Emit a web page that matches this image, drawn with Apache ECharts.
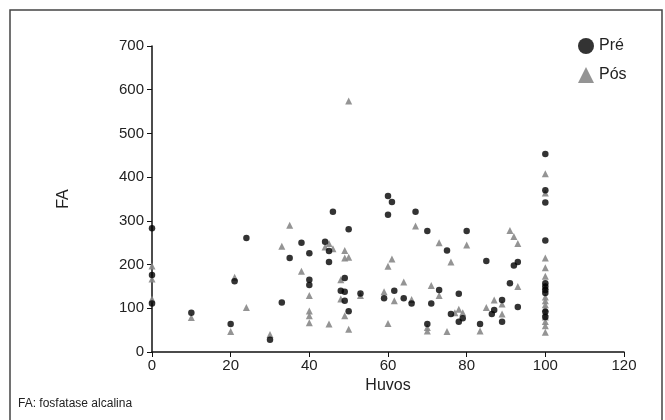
<!DOCTYPE html>
<html><head><meta charset="utf-8">
<script src="https://cdn.jsdelivr.net/npm/echarts@6/dist/echarts.min.js"></script>
<style>html,body{margin:0;padding:0;background:#fff}#c{width:665px;height:420px}</style>
</head><body><div id="c"></div>
<script>
var xTicks = [0, 20, 40, 60, 80, 100, 120];
var yTicks = [0, 100, 200, 300, 400, 500, 600, 700];
var preX = [0,0,0,10,20,21,24,30,33,35,38,40,40,40,44,45,45,46,48,49,49,49,50,50,53,59,60,60,61,61.6,64,66,67,70,70,71,73,75,76,78,78,79,80,83.4,85,86.4,87,89,89,91,92,93,93,100,100,100,100,100,100,100,100,100,100];
var preY = [283,176,111,90,64,162,261,28,113,215,250,226,165,153,252,231,206,321,140,169,138,117,281,93,134,123,357,314,343,140,123,111,321,277,64,111,142,232,87,133,69,77,277,64,208,87,96,119,69,157,198,206,103,453,370,342,255,157,150,142,135,92,80];
var posX = [0,0,0,10,20,21,24,30,33,35,38,40,40,40,40,44,45,46,45,48,48,49,49,50,49,50,50,53,59,60,61,61.6,60,64,66,67,70,70,71,73,73,76,75,77,78,79,80,83.4,85,87,89,89,91,92,93,93,100,100,100,100,100,100,100,100,100,100,100,100,100,100,100];
var posY = [197,167,121,79,47,171,102,40,242,290,185,129,94,83,67,240,248,236,64,165,121,232,215,217,83,52,574,129,138,196,213,117,65,160,120,288,48,56,152,250,129,206,47,90,98,90,245,48,102,119,110,87,278,264,248,150,408,364,215,193,173,150,126,117,108,100,90,80,70,60,45];
function pairs(xs, ys){ return xs.map(function(x,i){return [x, ys[i]];}); }
var font = 'Liberation Sans, Arial, sans-serif';
var chart = echarts.init(document.getElementById('c'));
chart.setOption({
  animation: false,
  backgroundColor: '#fff',
  graphic: [{type:'rect', shape:{x:10,y:10,width:652,height:430}, style:{fill:'none', stroke:'#444', lineWidth:1.5}, silent:true},
            {type:'text', left:18, top:398, style:{text:'FA: fosfatase alcalina', font:'12px ' + font, fill:'#222'}}],
  grid: {left:152, right:41, top:46, bottom:68},
  legend: {orient:'vertical', left:573, top:33, itemWidth:16, itemHeight:16, itemGap:13,
    textStyle:{fontFamily:font, fontSize:16, color:'#222'},
    data:[{name:'Pré', icon:'circle'}, {name:'Pós', icon:'triangle'}]},
  xAxis: {type:'value', min:0, max:120, interval:20, name:'Huvos', nameLocation:'middle', nameGap:25,
    nameTextStyle:{fontFamily:font, fontSize:16, color:'#222'},
    axisLine:{lineStyle:{color:'#111', width:1.5}}, axisTick:{inside:false, length:5, lineStyle:{color:'#111'}},
    splitLine:{show:false}, axisLabel:{fontFamily:font, fontSize:15, color:'#222', margin:6}},
  yAxis: {type:'value', min:0, max:700, interval:100, name:'FA', nameLocation:'middle', nameGap:80,
    nameTextStyle:{fontFamily:font, fontSize:16, color:'#222'},
    axisLine:{show:true, lineStyle:{color:'#111', width:1.5}}, axisTick:{show:true, length:5, lineStyle:{color:'#111'}},
    splitLine:{show:false}, axisLabel:{fontFamily:font, fontSize:15, color:'#222', margin:8}},
  series: [
    {name:'Pós', type:'scatter', symbol:'triangle', symbolSize:7, data:pairs(posX, posY), z:2,
      itemStyle:{color:'#888', opacity:0.9}},
    {name:'Pré', type:'scatter', symbol:'circle', symbolSize:6.5, data:pairs(preX, preY), z:3,
      itemStyle:{color:'#000'}}
  ]
});
</script></body></html>
